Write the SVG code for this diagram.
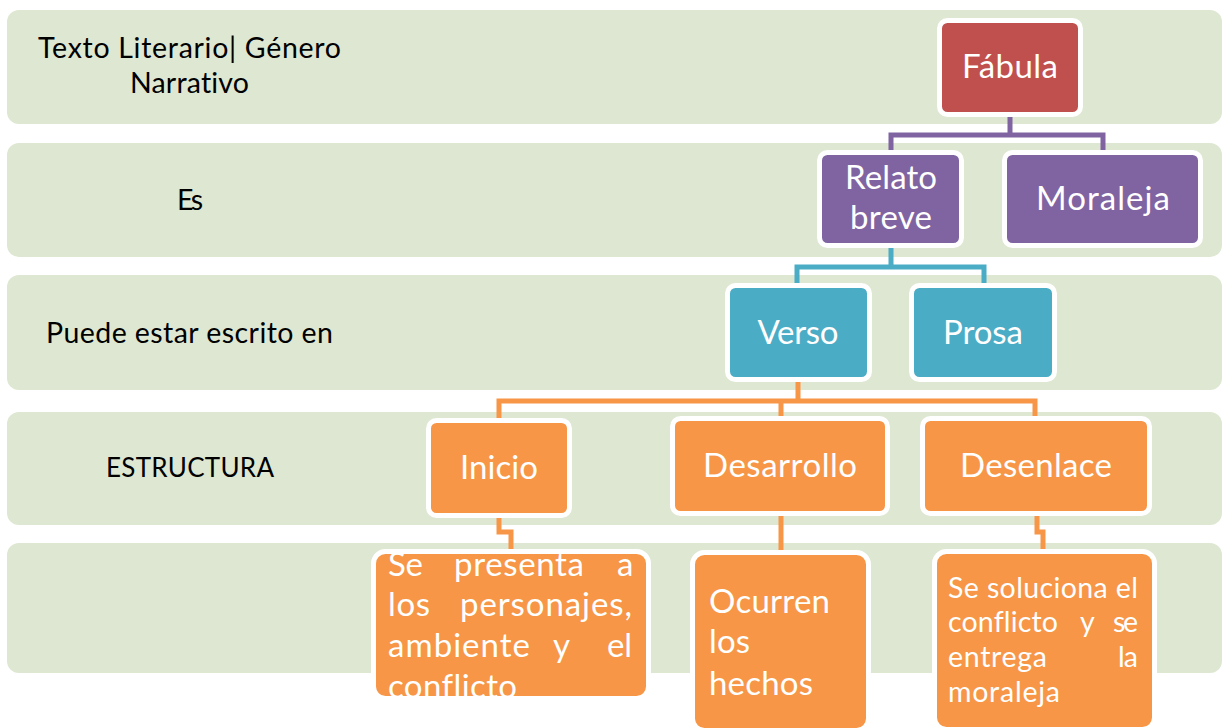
<svg xmlns="http://www.w3.org/2000/svg" width="1223" height="728" viewBox="0 0 1223 728">
<style>
text{font-variant-ligatures:none;font-feature-settings:"liga" 0,"dlig" 0}
.band{fill:#DEE7D1}
.lbl{font-family:Lato,"Liberation Sans",sans-serif;font-size:28.5px;fill:#000}
.nt{font-family:Lato,"Liberation Sans",sans-serif;font-size:33px;fill:#fff}
.st{font-family:Lato,"Liberation Sans",sans-serif;font-size:28.5px;fill:#fff}
.node{stroke:#fff;stroke-width:5}
.red{fill:#C0504D}.pur{fill:#8064A2}.teal{fill:#4BACC6}.org{fill:#F79646}
.c{fill:none;stroke-width:5;stroke-linejoin:miter;stroke-linecap:butt}
</style>
<defs>
<clipPath id="clipA"><rect x="376" y="554" width="270" height="142" rx="10"/></clipPath>
</defs>
<rect width="1223" height="728" fill="#fff"/>
<g id="bands">
<rect class="band" x="7" y="10" width="1215" height="114" rx="12"/>
<rect class="band" x="7" y="143" width="1215" height="114" rx="12"/>
<rect class="band" x="7" y="275" width="1215" height="115" rx="12"/>
<rect class="band" x="7" y="412" width="1215" height="113" rx="12"/>
<rect class="band" x="7" y="543" width="1215" height="130" rx="12"/>
</g>
<g id="labels">
<text class="lbl" x="38" y="58" textLength="303">Texto Literario|  Género</text>
<text class="lbl" x="130" y="93" textLength="119">Narrativo</text>
<text class="lbl" x="177" y="210" textLength="26">Es</text>
<text class="lbl" x="46" y="343" textLength="287">Puede estar escrito en</text>
<text class="lbl" x="106" y="477" textLength="168" style="font-size:26px">ESTRUCTURA</text>
</g>
<g id="connectors">
<path class="c" stroke="#8064A2" d="M1010 114 V135 M891 153 V135 H1103 V153"/>
<path class="c" stroke="#4BACC6" d="M891 244 V267 M797 286 V267 H984 V286"/>
<path class="c" stroke="#F79646" d="M798 378 V401 M499 421 V401 H1035 V419 M781 401 V419"/>
<path class="c" stroke="#F79646" d="M499 515 V532 H511 V553"/>
<path class="c" stroke="#F79646" d="M781 513 V553"/>
<path class="c" stroke="#F79646" d="M1037 513 V532 H1043 V553"/>
</g>
<g id="fabula">
<rect class="node red" x="939.5" y="20.5" width="141" height="94" rx="8"/>
<text class="nt" x="1010" y="78" text-anchor="middle" textLength="96">Fábula</text>
</g>
<g id="relato">
<rect class="node pur" x="819.5" y="152.5" width="142" height="93" rx="8"/>
<text class="nt" x="891" y="189" text-anchor="middle" textLength="92">Relato</text>
<text class="nt" x="891" y="229" text-anchor="middle" textLength="82">breve</text>
</g>
<g id="moraleja">
<rect class="node pur" x="1004.5" y="152.5" width="196" height="93" rx="8"/>
<text class="nt" x="1103" y="210" text-anchor="middle" textLength="134">Moraleja</text>
</g>
<g id="verso">
<rect class="node teal" x="727.5" y="285.5" width="142" height="94" rx="8"/>
<text class="nt" x="798" y="344" text-anchor="middle" textLength="81">Verso</text>
</g>
<g id="prosa">
<rect class="node teal" x="911.5" y="285.5" width="143" height="94" rx="8"/>
<text class="nt" x="983" y="344" text-anchor="middle" textLength="80">Prosa</text>
</g>
<g id="inicio">
<rect class="node org" x="428.5" y="420.5" width="141" height="95" rx="8"/>
<text class="nt" x="499" y="479" text-anchor="middle" textLength="78">Inicio</text>
</g>
<g id="desarrollo">
<rect class="node org" x="672.5" y="418.5" width="215" height="95" rx="8"/>
<text class="nt" x="780" y="477" text-anchor="middle" textLength="154">Desarrollo</text>
</g>
<g id="desenlace">
<rect class="node org" x="922.5" y="418.5" width="227" height="95" rx="8"/>
<text class="nt" x="1036" y="477" text-anchor="middle" textLength="152">Desenlace</text>
</g>
<g id="se-presenta">
<rect class="node org" x="373.5" y="551.5" width="275" height="147" rx="12"/>
<g clip-path="url(#clipA)" class="nt">
<text x="388" y="576" textLength="35">Se</text>
<text x="454" y="576" textLength="130">presenta</text>
<text x="617" y="576" textLength="15">a</text>
<text x="388" y="616" textLength="42">los</text>
<text x="460" y="616" textLength="172">personajes,</text>
<text x="388" y="657" textLength="142">ambiente</text>
<text x="553" y="657" textLength="24">y</text>
<text x="607" y="657" textLength="25">el</text>
<text x="388" y="698" textLength="129">conflicto</text>
</g>
</g>
<g id="ocurren">
<rect class="node org" x="692.5" y="552.5" width="176" height="178" rx="12"/>
<text class="nt" x="709" y="613" textLength="121">Ocurren</text>
<text class="nt" x="709" y="653" textLength="41">los</text>
<text class="nt" x="709" y="695" textLength="104">hechos</text>
</g>
<g id="se-soluciona">
<rect class="node org" x="934.5" y="551.5" width="220" height="178" rx="12"/>
<text class="st" x="948" y="598" textLength="190">Se soluciona el</text>
<text class="st" x="948" y="632" textLength="110">conflicto</text>
<text class="st" x="1080" y="632" textLength="12">y</text>
<text class="st" x="1113" y="632" textLength="25">se</text>
<text class="st" x="948" y="667" textLength="99">entrega</text>
<text class="st" x="1118" y="667" textLength="20">la</text>
<text class="st" x="948" y="702" textLength="112">moraleja</text>
</g>
</svg>
